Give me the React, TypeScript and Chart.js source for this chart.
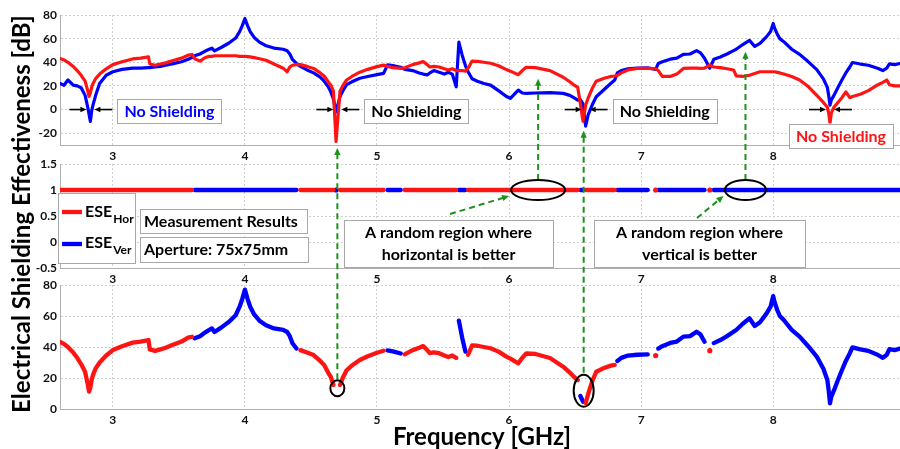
import React, { useEffect, useRef } from 'react';
import { Chart, registerables } from 'chart.js';
Chart.register(...registerables);

// ---------------- data ----------------
const freq = [
  2.60, 2.63, 2.66, 2.70, 2.73, 2.76, 2.79, 2.81, 2.82, 2.83,
  2.84, 2.85, 2.87, 2.90, 2.95, 3.00, 3.07, 3.15, 3.21, 3.27,
  3.28, 3.32, 3.36, 3.40, 3.45, 3.52, 3.57, 3.60, 3.62, 3.66,
  3.70, 3.73, 3.75, 3.77, 3.82, 3.88, 3.93, 3.96, 3.98, 4.00,
  4.02, 4.04, 4.07, 4.11, 4.16, 4.22, 4.29, 4.32, 4.34, 4.36,
  4.39, 4.42, 4.47, 4.52, 4.57, 4.60, 4.63, 4.65, 4.67, 4.69,
  4.72, 4.74, 4.77, 4.81, 4.87, 4.93, 5.00, 5.05, 5.08, 5.12,
  5.18, 5.21, 5.27, 5.32, 5.35, 5.38, 5.40, 5.43, 5.47, 5.51,
  5.54, 5.57, 5.60, 5.62, 5.645, 5.67, 5.69, 5.72, 5.76, 5.81,
  5.86, 5.92, 5.98, 6.01, 6.07, 6.10, 6.13, 6.20, 6.31, 6.41,
  6.46, 6.49, 6.52, 6.54, 6.56, 6.58, 6.60, 6.63, 6.66, 6.72,
  6.77, 6.80, 6.82, 6.85, 6.90, 6.97, 7.05, 7.11, 7.13, 7.16,
  7.22, 7.27, 7.32, 7.37, 7.42, 7.45, 7.48, 7.52, 7.55, 7.60,
  7.65, 7.70, 7.72, 7.77, 7.82, 7.86, 7.90, 7.95, 7.98, 7.99,
  8.00, 8.01, 8.03, 8.05, 8.08, 8.14, 8.20, 8.26, 8.33, 8.38,
  8.41, 8.42, 8.43, 8.44, 8.46, 8.49, 8.52, 8.55, 8.58, 8.60,
  8.66, 8.72, 8.79, 8.83, 8.86, 8.88, 8.92, 8.96,
];
const eseHor = [
  43.3, 42, 40, 36.5, 33, 29, 24, 16, 11.2, 14,
  19, 22, 26.2, 30, 34.5, 38, 40.5, 42.8, 43.5, 44.5,
  38.5, 37.5, 38.5, 39.5, 41.3, 43.5, 46, 46.6, 43, 41,
  44, 45, 45, 45.5, 45.5, 45.5, 45.5, 45, 45, 45,
  44.8, 44.5, 44, 43, 41.7, 38.5, 35, 32, 36, 37.5,
  38, 38, 36.5, 34.8, 31, 28.4, 23.5, 20.8, 15.5, -27,
  15.5, 20, 25, 28, 31.6, 34, 36.3, 37.6, 36.5, 35.5,
  34.8, 35.3, 38, 39.5, 40.6, 38, 36, 36.5, 36, 34.5,
  33.5, 34.5, 33, 33, 33, 32.5, 35, 41, 40.8, 40,
  39.2, 37, 33.8, 32.5, 29.5, 33, 35.8, 35.5, 32.9, 27.3,
  23.5, 20.8, 18.7, 5, -10, 3.9, 10, 18, 24, 26.5,
  28, 28.4, 29, 31, 33.5, 34.8, 34.8, 34.5, 33, 28,
  28, 30, 34.8, 35, 35, 34.8, 35, 37.6, 36, 35.5,
  34.5, 33.5, 28.5, 28, 29, 30.5, 32, 32, 32, 32,
  32, 32, 31.5, 31, 30, 28, 25, 20, 12, 6,
  2, -3, -11.5, -3, 2, 6, 10, 15, 10, 11,
  13, 16, 20.8, 23, 25, 21, 20, 20,
];
const eseVer = [
  22, 20.5, 25, 20.7, 20, 18.5, 12, 2, -4, -10,
  -1, 4, 12, 22, 29, 32, 34, 35, 35, 35.5,
  35.5, 36, 36.5, 37.5, 38.6, 40.5, 42.5, 44, 45.6, 47,
  49.5, 51, 52, 49.7, 52.5, 56.3, 60.5, 66, 71, 77,
  71, 66, 61, 57, 54, 52, 51, 49.7, 47, 42.4,
  39, 36.5, 33.5, 31, 27.5, 24, 19.5, 15, 9, -2,
  11, 15.5, 21, 23.5, 26.5, 28, 29.5, 30.6, 37.8, 37.2,
  35.8, 34, 33, 31, 30, 29.3, 31, 33, 31.5, 30,
  31.5, 30, 19.3, 57, 46, 37, 32, 26, 24, 22,
  20.7, 16, 11, 9.5, 16.5, 14, 13.7, 14, 14.3, 13.7,
  12, 10, 8, 8.4, 4.7, -14, -4, 4, 10.8, 17,
  22, 25, 31, 33, 34.5, 35, 35.2, 34, 39, 40.5,
  42.6, 43.5, 46.7, 47, 49.9, 48, 43.4, 35, 42.5, 44.5,
  47, 49.9, 51, 55, 58.5, 53.5, 56, 61.7, 66, 69.5,
  72.8, 69, 64, 60, 57.4, 51, 46.7, 41, 33.8, 26,
  18.7, 12, 3.7, 8, 12, 18.7, 25, 31, 36, 39.8,
  38.5, 37.5, 35, 33, 35, 38.6, 38, 39,
];
const xTicks = [3, 4, 5, 6, 7, 8];
const topYTicks = [-20, 0, 20, 40, 60, 80];
const midYTicks = [-0.5, 0, 0.5, 1, 1.5];
const botYTicks = [0, 20, 40, 60, 80];

// frequencies of the "No Shielding" nulls and marked regions
const noShieldingDips = [2.83, 4.70, 6.58, 8.43];
const horBetterRegion = 6.22;
const verBetterRegion = 7.79;
const bottomMarks = [{ f: 4.70, v: 13.4 }, { f: 6.565, v: 11.8 }];

// ---------------- styling ----------------
const W = 900, H = 449;
const FONT = 'Lato, "Open Sans", "DejaVu Sans", sans-serif';
const RED = '#ff1414', BLUE = '#0000ff', GREEN = '#1c921c';
const AXIS_H = 20, Y_W = 60;
const X_MIN = 2.6, X_MAX = 8.96;

function makeOptions(yMin: number, yMax: number, yTicks: number[], top: number, bottom: number): any {
  const tickFont = { family: FONT, size: 12, weight: 'bold' };
  return {
    responsive: false,
    animation: false,
    devicePixelRatio: 1,
    events: [],
    layout: { padding: { left: 0, right: 0, top, bottom: H - bottom - AXIS_H } },
    plugins: { legend: { display: false }, tooltip: { enabled: false } },
    scales: {
      x: {
        type: 'linear', min: X_MIN, max: X_MAX,
        afterBuildTicks: (s: any) => { s.ticks = xTicks.map((v) => ({ value: v })); },
        afterFit: (s: any) => { s.height = AXIS_H; },
        grid: { color: '#d0d0d0', drawTicks: false, lineWidth: 1 },
        border: { color: '#b0b0b0', dash: [2, 2], width: 1 },
        ticks: { color: '#111', font: tickFont, padding: 4, maxRotation: 0, autoSkip: false, callback: (v: any) => String(v) },
      },
      y: {
        type: 'linear', min: yMin, max: yMax,
        afterBuildTicks: (s: any) => { s.ticks = yTicks.map((v) => ({ value: v })); },
        afterFit: (s: any) => { s.width = Y_W; },
        grid: { color: '#d0d0d0', drawTicks: false, lineWidth: 1 },
        border: { color: '#b0b0b0', dash: [2, 2], width: 1 },
        ticks: { color: '#111', font: tickFont, padding: 3, autoSkip: false, callback: (v: any) => String(v) },
      },
    },
  };
}

const isolatedRadius = (r: number) => (ctx: any) => {
  const d = ctx.dataset.data;
  const i = ctx.dataIndex;
  const cur = d[i];
  if (!cur || cur.y == null) return 0;
  const pn = !d[i - 1] || d[i - 1].y == null;
  const nn = !d[i + 1] || d[i + 1].y == null;
  return pn && nn ? r : 0;
};

function lineDs(values: (number | null)[], color: string, width: number, dotR: number) {
  return {
    data: freq.map((f, i) => ({ x: f, y: values[i] })),
    borderColor: color,
    backgroundColor: color,
    borderWidth: width,
    borderCapStyle: 'round',
    borderJoinStyle: 'round',
    pointRadius: isolatedRadius(dotR),
    pointBorderWidth: 0,
    pointBackgroundColor: color,
    spanGaps: false,
    tension: 0,
    fill: false,
  };
}

function arrow(ctx: CanvasRenderingContext2D, x1: number, y1: number, x2: number, y2: number, color: string, width: number, head: number, dash: number[] = []) {
  const a = Math.atan2(y2 - y1, x2 - x1);
  const c = Math.cos(a), s = Math.sin(a);
  ctx.save();
  ctx.strokeStyle = color; ctx.fillStyle = color; ctx.lineWidth = width;
  ctx.setLineDash(dash);
  ctx.beginPath();
  ctx.moveTo(x1, y1);
  ctx.lineTo(x2 - head * 0.8 * c, y2 - head * 0.8 * s);
  ctx.stroke();
  ctx.setLineDash([]);
  ctx.beginPath();
  ctx.moveTo(x2, y2);
  ctx.lineTo(x2 - head * c - head * 0.45 * s, y2 - head * s + head * 0.45 * c);
  ctx.lineTo(x2 - head * c + head * 0.45 * s, y2 - head * s - head * 0.45 * c);
  ctx.closePath();
  ctx.fill();
  ctx.restore();
}

function box(ctx: CanvasRenderingContext2D, x: number, y: number, w: number, h: number) {
  ctx.save();
  ctx.fillStyle = '#ffffff';
  ctx.fillRect(x, y, w, h);
  ctx.strokeStyle = '#a8a8a8';
  ctx.lineWidth = 1;
  ctx.strokeRect(Math.round(x) + 0.5, Math.round(y) + 0.5, Math.round(w), Math.round(h));
  ctx.restore();
}

function ellipse(ctx: CanvasRenderingContext2D, cx: number, cy: number, rx: number, ry: number) {
  ctx.save();
  ctx.strokeStyle = '#000';
  ctx.lineWidth = 2;
  ctx.beginPath();
  ctx.ellipse(cx, cy, rx, ry, 0, 0, Math.PI * 2);
  ctx.stroke();
  ctx.restore();
}

function drawOverlay(ctx: CanvasRenderingContext2D, c1: any, c2: any, c3: any) {
  const X = (c: any, f: number) => c.scales.x.getPixelForValue(f);
  const Y = (c: any, v: number) => c.scales.y.getPixelForValue(v);
  const bold = (sz: number) => `bold ${sz}px ${FONT}`;

  // ---- top panel: No Shielding markers
  const dipStyles = [
    { color: BLUE, place: 'right' },
    { color: '#000', place: 'right' },
    { color: '#000', place: 'right' },
    { color: RED, place: 'below' },
  ];
  noShieldingDips.forEach((f, k) => {
    const cx = X(c1, f), cy = Y(c1, 0);
    arrow(ctx, cx - 21, cy, cx - 4, cy, '#000', 1.6, 6);
    arrow(ctx, cx + 22, cy, cx + 4, cy, '#000', 1.6, 6);
    ctx.font = bold(16);
    const tw = ctx.measureText('No Shielding').width;
    const bw = tw + 14, bh = 24;
    const st = dipStyles[k];
    const bx = st.place === 'right' ? cx + 27 : cx - 41;
    const by = st.place === 'right' ? cy - 11 : cy + 14;
    box(ctx, bx, by, bw, bh);
    ctx.fillStyle = st.color;
    ctx.textBaseline = 'middle';
    ctx.textAlign = 'left';
    ctx.fillText('No Shielding', bx + 7, by + bh / 2 + 1);
  });

  // ---- green dashed pointers
  const dash = [6, 4];
  const e1x = X(c2, horBetterRegion), e1y = Y(c2, 1);
  const e2x = X(c2, verBetterRegion), e2y = Y(c2, 1);
  const b1x = X(c3, bottomMarks[0].f), b1y = Y(c3, bottomMarks[0].v);
  const b2x = X(c3, bottomMarks[1].f), b2y = Y(c3, bottomMarks[1].v);
  arrow(ctx, b1x, b1y - 9, b1x, c1.chartArea.bottom + 3, GREEN, 2, 7, dash);
  arrow(ctx, b2x, b2y - 18, b2x, Y(c1, -18), GREEN, 2, 7, dash);
  arrow(ctx, e1x, e1y - 10, e1x, Y(c1, 26), GREEN, 2, 7, dash);
  arrow(ctx, e2x, e2y - 10, e2x, Y(c1, 49), GREEN, 2, 7, dash);
  arrow(ctx, 450, 214, e1x - 29, e1y + 6, GREEN, 2, 7, dash);
  arrow(ctx, 697, 218, e2x - 22, e2y + 6, GREEN, 2, 7, dash);

  // ---- ellipses
  ellipse(ctx, e1x, e1y, 27, 10);
  ellipse(ctx, e2x, e2y, 20.5, 10);
  ellipse(ctx, b1x, b1y, 7, 8);
  ellipse(ctx, b2x, b2y, 10, 16);

  // ---- legend box
  box(ctx, 58, 193, 77, 70);
  ctx.save();
  ctx.lineCap = 'butt';
  ctx.lineWidth = 4.3;
  ctx.strokeStyle = RED;
  ctx.beginPath(); ctx.moveTo(62, 212); ctx.lineTo(82, 212); ctx.stroke();
  ctx.strokeStyle = BLUE;
  ctx.beginPath(); ctx.moveTo(62, 244); ctx.lineTo(82, 244); ctx.stroke();
  ctx.restore();
  ctx.fillStyle = '#000';
  ctx.textAlign = 'left';
  ctx.textBaseline = 'alphabetic';
  const legendItems = [{ sub: 'Hor', base: 217 }, { sub: 'Ver', base: 248 }];
  legendItems.forEach((it) => {
    ctx.font = bold(16);
    ctx.fillText('ESE', 85, it.base);
    const w = ctx.measureText('ESE').width;
    ctx.font = bold(12);
    ctx.fillText(it.sub, 85 + w + 1, it.base + 6);
  });

  // ---- info boxes
  ctx.font = bold(16);
  ctx.textBaseline = 'middle';
  box(ctx, 140, 209, 167, 24);
  ctx.fillStyle = '#000';
  ctx.fillText('Measurement Results', 144, 222);
  box(ctx, 140, 237, 168, 25);
  ctx.fillStyle = '#000';
  ctx.fillText('Aperture: 75x75mm', 144, 250);

  box(ctx, 344, 220, 209, 47);
  box(ctx, 594, 220, 211, 47);
  ctx.fillStyle = '#000';
  ctx.textAlign = 'center';
  ctx.fillText('A random region where', 448.5, 233);
  ctx.fillText('horizontal is better', 448.5, 255);
  ctx.fillText('A random region where', 699.5, 233);
  ctx.fillText('vertical is better', 699.5, 255);

  // ---- axis titles
  ctx.font = bold(24);
  ctx.fillStyle = '#000';
  ctx.textAlign = 'center';
  ctx.textBaseline = 'middle';
  ctx.fillText('Frequency [GHz]', 482, 437);
  ctx.save();
  ctx.translate(22, 214);
  ctx.rotate(-Math.PI / 2);
  ctx.fillText('Electrical Shielding Effectiveness [dB]', 0, 0);
  ctx.restore();
}

export default function App() {
  const r1 = useRef<HTMLCanvasElement>(null);
  const r2 = useRef<HTMLCanvasElement>(null);
  const r3 = useRef<HTMLCanvasElement>(null);
  const r4 = useRef<HTMLCanvasElement>(null);

  useEffect(() => {
    const horWins = eseHor.map((h, i) => (h >= eseVer[i] ? h : null));
    const verWins = eseVer.map((v, i) => (v > eseHor[i] ? v : null));
    const horFlag = horWins.map((v) => (v == null ? null : 1));
    const verFlag = verWins.map((v) => (v == null ? null : 1));

    const c1 = new Chart(r1.current!, {
      type: 'line',
      data: { datasets: [lineDs(eseHor, RED, 3.2, 0), lineDs(eseVer, BLUE, 3.2, 0)] as any },
      options: makeOptions(-30, 80, topYTicks, 15, 145),
    });
    const c2 = new Chart(r2.current!, {
      type: 'line',
      data: { datasets: [lineDs(horFlag, RED, 4.3, 2.6), lineDs(verFlag, BLUE, 4.3, 2.6)] as any },
      options: makeOptions(-0.5, 1.5, midYTicks, 164, 268),
    });
    const c3 = new Chart(r3.current!, {
      type: 'line',
      data: { datasets: [lineDs(horWins, RED, 4.3, 2.6), lineDs(verWins, BLUE, 4.3, 2.6)] as any },
      options: makeOptions(0, 80, botYTicks, 285, 409),
    });
    const octx = r4.current!.getContext('2d')!;
    octx.clearRect(0, 0, W, H);
    drawOverlay(octx, c1, c2, c3);
    return () => {
      c1.destroy();
      c2.destroy();
      c3.destroy();
    };
  }, []);

  const cs: React.CSSProperties = { position: 'absolute', left: 0, top: 0, width: W, height: H };
  return (
    <div style={{ position: 'fixed', left: 0, top: 0, width: W, height: H, background: '#fff', overflow: 'hidden' }}>
      <canvas ref={r1} width={W} height={H} style={cs} />
      <canvas ref={r2} width={W} height={H} style={cs} />
      <canvas ref={r3} width={W} height={H} style={cs} />
      <canvas ref={r4} width={W} height={H} style={cs} />
    </div>
  );
}
